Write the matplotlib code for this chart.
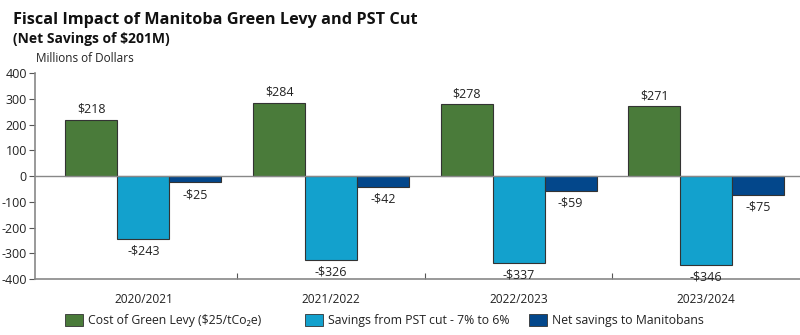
import numpy as np
import matplotlib
matplotlib.use('Agg')
import matplotlib.pyplot as plt
from matplotlib.patches import Patch

years = ['2020/2021', '2021/2022', '2022/2023', '2023/2024']
levy_cost = [218, 284, 278, 271]
pst_savings = [-243, -326, -337, -346]
net_savings = [-25, -42, -59, -75]

series_names = ['Cost of Green Levy ($25/tCo₂e)',
                'Savings from PST cut - 7% to 6%',
                'Net savings to Manitobans']
colors = ['#4a7b3a', '#13a1cd', '#03478b']

plt.rcParams['font.family'] = ['Open Sans', 'DejaVu Sans']
plt.rcParams['axes.unicode_minus'] = False

fig = plt.figure(figsize=(8, 3.35), dpi=100)
ax = fig.add_axes([0.044, 0.167, 0.956, 0.615])

x = np.arange(len(years))
w = 0.277
txt = '#222222'
for i, (vals, c) in enumerate(zip([levy_cost, pst_savings, net_savings], colors)):
    pos = x + (i - 1) * w
    ax.bar(pos, vals, w, color=c, edgecolor='#333333', linewidth=0.8, zorder=2)
    for px, v in zip(pos, vals):
        label = f'${v}' if v >= 0 else f'-${-v}'
        off = 3 if v >= 0 else -4
        ax.annotate(label, (px, v), xytext=(0, off), textcoords='offset points',
                    ha='center', va='bottom' if v >= 0 else 'top',
                    fontsize=9, color=txt)

ax.axhline(0, color='#888888', linewidth=1, zorder=3)

ax.set_ylim(-400, 400)
ax.set_yticks(range(-400, 401, 100))
ax.set_xlim(-0.577, 3.5)
ax.set_xticks([0.5, 1.5, 2.5])
ax.set_xticklabels([])
ax.set_xticks(x, minor=True)
ax.set_xticklabels(years, minor=True)
ax.tick_params(axis='x', which='major', direction='in', length=4, color='#555555')
ax.tick_params(axis='x', which='minor', length=0, pad=10, labelsize=8.6, labelcolor=txt)
ax.tick_params(axis='y', length=4, color='#555555', labelsize=9, labelcolor=txt, pad=2)

for s in ['top', 'right']:
    ax.spines[s].set_visible(False)
for s in ['left', 'bottom']:
    ax.spines[s].set_color('#888888')
    ax.spines[s].set_linewidth(1.2)

# one legend entry per column, placed at fixed x positions
for name, c, lx in zip(series_names, colors, [0.081, 0.381, 0.661]):
    h = Patch(facecolor=c, edgecolor='#333333', linewidth=0.6)
    fig.legend([h], [name], loc='center left', bbox_to_anchor=(lx, 0.043),
               frameon=False, fontsize=8.8, handlelength=1.47, handleheight=1.06,
               handletextpad=0.4, borderpad=0, borderaxespad=0, labelcolor=txt)

fig.text(0.016, 0.94, 'Fiscal Impact of Manitoba Green Levy and PST Cut',
         fontsize=11.7, fontweight='bold', color='#111111', va='center')
fig.text(0.016, 0.883, '(Net Savings of $201M)', fontsize=10, fontweight='bold',
         color='#111111', va='center')
fig.text(0.045, 0.826, 'Millions of Dollars', fontsize=8.5, color=txt, va='center')

fig.savefig('out.png', dpi=100)
